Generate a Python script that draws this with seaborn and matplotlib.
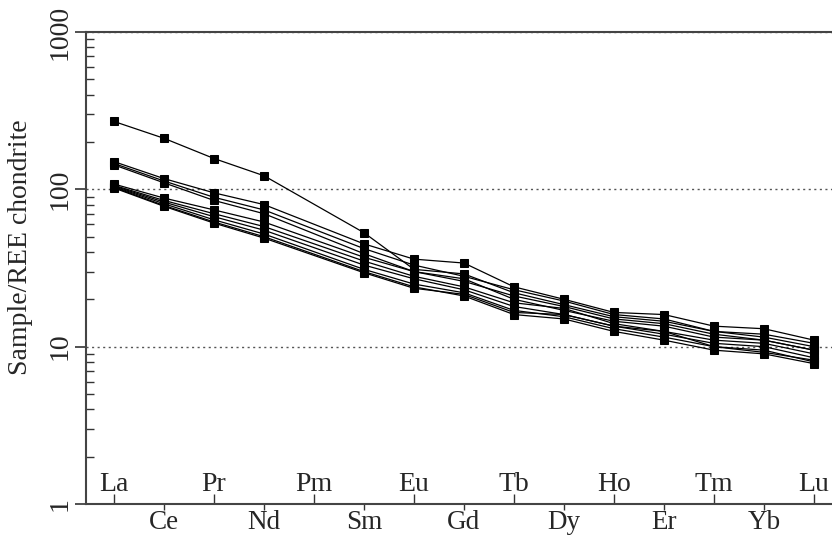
import matplotlib
matplotlib.use('Agg')
import matplotlib.pyplot as plt
from matplotlib.ticker import FixedLocator, NullFormatter
import seaborn as sns
import pandas as pd
import numpy as np

sns.set_style('ticks')
plt.rcParams['font.family'] = ['Liberation Serif', 'DejaVu Serif']

# REE order (Pm has no data)
elements = ['La', 'Ce', 'Pr', 'Nd', 'Sm', 'Eu', 'Gd', 'Tb', 'Dy', 'Ho', 'Er', 'Tm', 'Yb', 'Lu']
positions = [0, 1, 2, 3, 5, 6, 7, 8, 9, 10, 11, 12, 13, 14]
axis_labels = ['La', 'Ce', 'Pr', 'Nd', 'Pm', 'Sm', 'Eu', 'Gd', 'Tb', 'Dy', 'Ho', 'Er', 'Tm', 'Yb', 'Lu']

# chondrite-normalised values per sample
s1 = [270, 211, 157, 122, 53, 31, 29, 22, 18.5, 15.5, 14.5, 12.5, 11.5, 10]
s2 = [150, 117, 95, 80, 45, 36, 34, 24, 20, 16.5, 16, 13.5, 13, 11]
s3 = [146, 113, 89, 74, 42, 33, 28, 23, 19.5, 16, 15, 12.5, 12, 10.5]
s4 = [143, 110, 85, 70, 39, 30, 26, 21, 18, 15, 14, 12, 11, 9.5]
s5 = [108, 88, 74, 62, 37, 30, 27, 20, 17, 14.5, 13.5, 11.5, 11, 9.5]
s6 = [106, 85, 70, 58, 35, 28, 24, 19, 17.5, 14, 12.5, 11, 10.5, 9]
s7 = [105, 83, 67, 55, 33, 27, 23, 18, 16, 13.5, 12, 10.5, 10, 8.5]
s8 = [104, 81, 64, 52, 31, 25, 22, 17, 15.5, 13, 11.5, 10, 9.5, 8]
s9 = [103, 79, 62, 50, 30, 24, 21, 16, 15, 12.5, 11, 9.5, 9, 7.8]
s10 = [102, 78, 61, 49, 29.5, 23.5, 21.5, 16.5, 16, 13.5, 12.5, 10, 9.2, 8.2]
samples = [s1, s2, s3, s4, s5, s6, s7, s8, s9, s10]

rows = []
for i, vals in enumerate(samples):
    for el, pos, v in zip(elements, positions, vals):
        rows.append({'sample': i, 'element': el, 'pos': pos, 'value': v})
df = pd.DataFrame(rows)

fig = plt.figure(figsize=(8.32, 5.38), dpi=100)
ax = fig.add_axes([86/832, 34/538, 746/832, 472/538])

sns.lineplot(data=df, x='pos', y='value', units='sample', estimator=None,
             color='black', linewidth=0.9, marker='s', markersize=6,
             markeredgecolor='black', markerfacecolor='black', ax=ax, legend=False)

ax.set_yscale('log')
ax.set_ylim(1, 1000)
ax.set_xlim(-0.56, 14.36)

# y axis: outward major ticks, inward minor ticks
ax.yaxis.set_major_locator(FixedLocator([1, 10, 100, 1000]))
ax.set_yticklabels(['1', '10', '100', '1000'])
minor_y = [m * d for d in [1, 10, 100] for m in range(2, 10)]
ax.yaxis.set_minor_locator(FixedLocator(minor_y))
ax.yaxis.set_minor_formatter(NullFormatter())
ax.tick_params(axis='y', which='major', direction='out', length=8, width=1.2,
               labelsize=20, pad=2, color='#333333')
ax.tick_params(axis='y', which='minor', direction='in', length=6, width=1.0, color='#333333')
for lab in ax.get_yticklabels():
    lab.set_rotation(90)
    lab.set_va('center')

# x axis: alternating labels inside / outside
ax.xaxis.set_major_locator(FixedLocator(list(range(0, 15, 2))))
ax.set_xticklabels(axis_labels[0::2])
ax.xaxis.set_minor_locator(FixedLocator(list(range(1, 15, 2))))
ax.set_xticklabels(axis_labels[1::2], minor=True)
ax.tick_params(axis='x', which='major', direction='in', length=7, width=1.0,
               labelsize=20, pad=-23, color='#333333')
ax.tick_params(axis='x', which='minor', direction='out', length=4, width=1.0,
               labelsize=19.5, pad=0.5, color='#333333')

ax.grid(axis='y', which='major', linestyle=(0, (1.5, 2.5)), color='#555555', linewidth=1.0)
ax.set_axisbelow(True)

for side in ['top', 'bottom', 'left']:
    ax.spines[side].set_color('#444444')
    ax.spines[side].set_linewidth(1.5)
ax.spines['right'].set_visible(False)

ax.set_xlabel('')
ax.set_ylabel('Sample/REE chondrite', fontsize=20)
ax.yaxis.set_label_coords(-0.071, 0.545)

fig.savefig('out.png', dpi=100)
